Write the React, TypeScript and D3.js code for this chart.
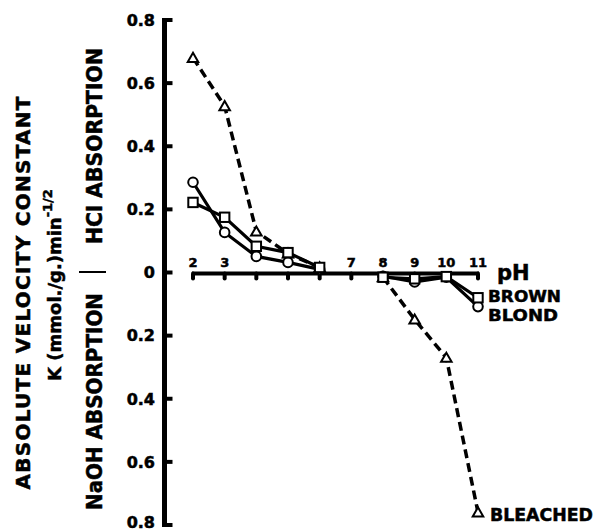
import React from "react";
import * as d3 from "d3";

const PH_ACID = [2, 3, 4, 5, 6];
const PH_BASE = [8, 9, 10, 11];
const BROWN_ACID = [0.222, 0.175, 0.083, 0.063, 0.016];
const BROWN_BASE = [-0.015, -0.02, -0.013, -0.08];
const BLOND_ACID = [0.286, 0.127, 0.051, 0.032, 0.01];
const BLOND_BASE = [-0.012, -0.03, -0.015, -0.108];
const BLEACHED_ACID = [0.68, 0.527, 0.13, 0.06, 0.016];
const BLEACHED_BASE = [-0.015, -0.149, -0.27, -0.76];
const Y_TICKS = [-0.8, -0.6, -0.4, -0.2, 0, 0.2, 0.4, 0.6, 0.8];
const PH_TICKS = [2, 3, 4, 5, 6, 7, 8, 9, 10, 11];
const PH_LABELS = [2, 3, 7, 8, 9, 10, 11];

const W = 593;
const H = 531;
const FONT = "'DejaVu Sans', sans-serif";

export default function App() {
  const x = d3.scaleLinear().domain([2, 11]).range([193, 478]);
  const y = d3.scaleLinear().domain([-0.8, 0.8]).range([525, 20]);
  const line = d3
    .line<[number, number]>()
    .x((d) => x(d[0]))
    .y((d) => y(d[1]));
  const pts = (ph: number[], v: number[]) =>
    ph.map((p, i) => [p, v[i]] as [number, number]);

  const axisX = 164.5;
  const tri = d3.symbol().type(d3.symbolTriangle).size(48)();

  const series = [
    { name: "bleached", acid: pts(PH_ACID, BLEACHED_ACID), base: pts(PH_BASE, BLEACHED_BASE), dash: "9,5", marker: "tri" },
    { name: "blond", acid: pts(PH_ACID, BLOND_ACID), base: pts(PH_BASE, BLOND_BASE), dash: null, marker: "circle" },
    { name: "brown", acid: pts(PH_ACID, BROWN_ACID), base: pts(PH_BASE, BROWN_BASE), dash: null, marker: "square" },
  ];

  const marker = (m: string, px: number, py: number, key: string) => {
    if (m === "circle")
      return <circle key={key} cx={px} cy={py} r={4.8} fill="#fff" stroke="#000" strokeWidth={2} />;
    if (m === "square")
      return <rect key={key} x={px - 4.7} y={py - 4.7} width={9.4} height={9.4} fill="#fff" stroke="#000" strokeWidth={2} />;
    return <path key={key} d={tri as string} transform={`translate(${px},${py + 1})`} fill="#fff" stroke="#000" strokeWidth={2} />;
  };

  const bold = { stroke: "#000", strokeWidth: 0.5 };

  return (
    <div style={{ position: "absolute", left: 0, top: 0 }}>
      <svg width={W} height={H} style={{ display: "block", background: "#fff" }} fontFamily={FONT} fontWeight="bold">
        {/* Y axis */}
        <line x1={axisX} x2={axisX} y1={y(0.8) - 2} y2={y(-0.8) + 2} stroke="#000" strokeWidth={5} />
        {Y_TICKS.map((t) => (
          <g key={"yt" + t}>
            <line x1={axisX} x2={axisX + 8} y1={y(t)} y2={y(t)} stroke="#000" strokeWidth={4} />
            <text x={155} y={t === -0.8 ? y(t) - 3 : y(t)} dy="0.36em" textAnchor="end" fontSize={16} fill="#000" {...bold}>
              {t === 0 ? "0" : d3.format(".1f")(Math.abs(t))}
            </text>
          </g>
        ))}

        {/* pH axis */}
        <line x1={x(2) - 1} x2={x(11) + 1} y1={y(0) + 1} y2={y(0) + 1} stroke="#000" strokeWidth={4} />
        {PH_TICKS.map((p) => (
          <line key={"pt" + p} x1={x(p)} x2={x(p)} y1={y(0) + 1} y2={y(0) + 6} stroke="#000" strokeWidth={4} strokeLinecap="round" />
        ))}
        {PH_LABELS.map((p) => (
          <text key={"pl" + p} x={x(p)} y={y(0) - 6} textAnchor="middle" fontSize={13} fill="#000" {...bold}>
            {p}
          </text>
        ))}
        <text x={497} y={y(0) + 7} fontSize={21} fill="#000" {...bold}>pH</text>

        {/* series */}
        {series.map((s) => (
          <g key={s.name}>
            {[s.acid, s.base].map((seg, i) => (
              <path
                key={i}
                d={line(seg) as string}
                fill="none"
                stroke="#000"
                strokeWidth={s.dash ? 3.5 : 3.2}
                strokeDasharray={s.dash ?? undefined}
              />
            ))}
            {[...s.acid, ...s.base].map((d, i) => marker(s.marker, x(d[0]), y(d[1]), s.name + i))}
          </g>
        ))}

        {/* series labels */}
        <text x={488} y={296} dy="0.36em" fontSize={16} textLength={73} lengthAdjust="spacingAndGlyphs" fill="#000" {...bold}>BROWN</text>
        <text x={488} y={315} dy="0.36em" fontSize={16} textLength={70} lengthAdjust="spacingAndGlyphs" fill="#000" {...bold}>BLOND</text>
        <text x={490} y={515} dy="0.36em" fontSize={17} textLength={103} lengthAdjust="spacingAndGlyphs" fill="#000" {...bold}>BLEACHED</text>

        {/* Y titles */}
        <text transform="translate(30,293) rotate(-90)" textAnchor="middle" fontSize={20} textLength={393} lengthAdjust="spacing" fill="#000" {...bold}>
          ABSOLUTE VELOCITY CONSTANT
        </text>
        <text transform="translate(61,285) rotate(-90)" textAnchor="middle" fontSize={18} fill="#000" {...bold}>
          K (mmol./g.)min
          <tspan fontSize={13} dy={-9}>-1/2</tspan>
        </text>
        <text transform="translate(102,146) rotate(-90)" textAnchor="middle" fontSize={21} textLength={196} lengthAdjust="spacingAndGlyphs" fill="#000" {...bold}>
          HCl ABSORPTION
        </text>
        <text transform="translate(102,401.5) rotate(-90)" textAnchor="middle" fontSize={21} textLength={217} lengthAdjust="spacingAndGlyphs" fill="#000" {...bold}>
          NaOH ABSORPTION
        </text>
        <line x1={79} x2={106} y1={272} y2={272} stroke="#000" strokeWidth={2} />
      </svg>
    </div>
  );
}
